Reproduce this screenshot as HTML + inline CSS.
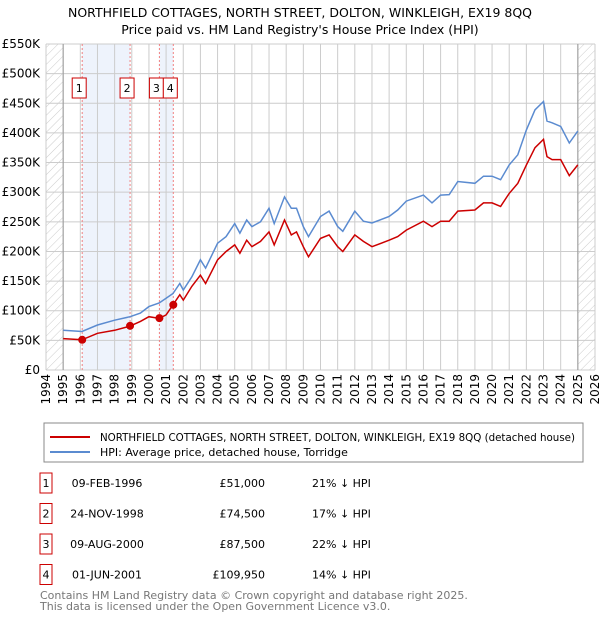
<!DOCTYPE html>
<html><head><meta charset="utf-8"><style>
body{margin:0;background:#fff;font-family:"Liberation Sans","DejaVu Sans",sans-serif;}
svg text{font-family:"DejaVu Sans","Liberation Sans",sans-serif;}
</style></head><body>
<svg id="c" width="600" height="620" xmlns="http://www.w3.org/2000/svg">
<defs><pattern id="hatch" width="6" height="6" patternUnits="userSpaceOnUse" patternTransform="rotate(45)"><line x1="0" y1="0" x2="0" y2="6" stroke="#ccc" stroke-width="1"/></pattern></defs>
<text x="300" y="17" text-anchor="middle" font-size="12.5">NORTHFIELD COTTAGES, NORTH STREET, DOLTON, WINKLEIGH, EX19 8QQ</text>
<text x="300" y="34" text-anchor="middle" font-size="12.5">Price paid vs. HM Land Registry's House Price Index (HPI)</text>
<g id="plot"></g>
<g>
<rect x="44" y="423" width="539" height="39" fill="#fff" stroke="#888"/>
<line x1="50" y1="437" x2="90" y2="437" stroke="#cc0000" stroke-width="2"/>
<text x="100" y="441" font-size="11" textLength="475" lengthAdjust="spacingAndGlyphs">NORTHFIELD COTTAGES, NORTH STREET, DOLTON, WINKLEIGH, EX19 8QQ (detached house)</text>
<line x1="50" y1="452" x2="90" y2="452" stroke="#5b8bd0" stroke-width="2"/>
<text x="100" y="456" font-size="11">HPI: Average price, detached house, Torridge</text>
</g>
<g id="table" font-size="11"></g>
<text x="40" y="599" font-size="11" fill="#777">Contains HM Land Registry data © Crown copyright and database right 2025.</text>
<text x="40" y="610" font-size="11" fill="#777">This data is licensed under the Open Government Licence v3.0.</text>
</svg>
<script>
const years=[1995,1996.1,1997,1998,1998.9,1999.5,2000,2000.6,2001,2001.4,2001.8,2002,2002.5,2003,2003.3,2004,2004.5,2005,2005.3,2005.7,2006,2006.5,2007,2007.3,2007.9,2008.3,2008.6,2009,2009.3,2010,2010.5,2011,2011.3,2012,2012.5,2013,2014,2014.5,2015,2016,2016.5,2017,2017.5,2018,2019,2019.5,2020,2020.5,2021,2021.5,2022,2022.5,2023,2023.2,2023.5,2024,2024.5,2025];
const hpi=[67,65,76,84,90,96,107,113,121,129,146,135,157,186,172,214,225,247,231,253,242,250,273,247,292,273,273,242,225,259,268,242,234,268,251,248,259,270,285,295,282,295,296,318,315,327,327,321,346,363,405,439,453,420,417,411,383,403];
const paid=[53,51,62,67,74,82,90,87,93,110,127,118,141,160,146,186,200,211,197,219,208,217,233,211,253,228,233,208,191,222,228,208,200,228,217,208,219,225,236,251,242,251,251,268,270,282,282,276,298,315,346,375,389,360,355,355,328,346];
const saleYears=[1996.11,1998.9,2000.61,2001.42];
const salePrices=[51,74.5,87.5,109.95];
const saleLabels=["1","2","3","4"];
const saleDates=["09-FEB-1996","24-NOV-1998","09-AUG-2000","01-JUN-2001"];
const salePriceText=["£51,000","£74,500","£87,500","£109,950"];
const saleDiff=["21% ↓ HPI","17% ↓ HPI","22% ↓ HPI","14% ↓ HPI"];
const yTicks=[0,50,100,150,200,250,300,350,400,450,500,550];
const xTicks=[1994,1995,1996,1997,1998,1999,2000,2001,2002,2003,2004,2005,2006,2007,2008,2009,2010,2011,2012,2013,2014,2015,2016,2017,2018,2019,2020,2021,2022,2023,2024,2025,2026];
const X0=46,X1=595,Y0=370,Y1=44;
const sx=y=>X0+(y-1994)/(2026-1994)*(X1-X0);
const sy=v=>Y0-v/550*(Y0-Y1);
const NS="http://www.w3.org/2000/svg";
const plot=document.getElementById('plot');
function mk(t,a,p){const e=document.createElementNS(NS,t);for(const k in a)e.setAttribute(k,a[k]);(p||plot).appendChild(e);return e;}
let r=mk('rect',{x:sx(1994),y:Y1,width:sx(1995)-sx(1994),height:Y0-Y1,fill:'url(#hatch)'});


r=mk('rect',{x:sx(2025),y:Y1,width:sx(2026)-sx(2025),height:Y0-Y1,fill:'url(#hatch)'});


r=mk('rect',{x:sx(saleYears[0]),y:Y1,width:sx(saleYears[1])-sx(saleYears[0]),height:Y0-Y1,fill:'#eef3fc'});


r=mk('rect',{x:sx(saleYears[2]),y:Y1,width:sx(saleYears[3])-sx(saleYears[2]),height:Y0-Y1,fill:'#eef3fc'});


yTicks.forEach(v=>{
 const l=mk('line',{x1:X0,x2:X1,y1:sy(v),y2:sy(v),stroke:'#ccc'});
 
 
 const t=mk('text',{x:X0-6,y:sy(v)+4,'text-anchor':'end','font-size':'12'});
 t.textContent=v===0?'£0':'£'+v+'K';
 
 
});
xTicks.forEach(y=>{
 const l=mk('line',{x1:sx(y),x2:sx(y),y1:Y1,y2:Y0,stroke:'#ccc'});
 
 
 const t=mk('text',{transform:`translate(${sx(y)+4},${Y0+4}) rotate(-90)`,'text-anchor':'end','font-size':'12'});
 t.textContent=y;
 
 
});
let l=mk('line',{x1:sx(1995),x2:sx(1995),y1:Y1,y2:Y0,stroke:'#999'});


l=mk('line',{x1:sx(2025),x2:sx(2025),y1:Y1,y2:Y0,stroke:'#999'});


saleYears.forEach((y,i)=>{
 const d=mk('line',{x1:sx(y),x2:sx(y),y1:Y1,y2:Y0,stroke:'#f08080','stroke-dasharray':'2,2'});
 
 
 const bx=sx(y)-10;
 const g=mk('g',{});
 
 
 mk('rect',{x:bx,y:78,width:14,height:20,fill:'#fff',stroke:'#cc0000'},g);
 const t=mk('text',{x:bx+7,y:92,'text-anchor':'middle','font-size':'11'},g);
 t.textContent=saleLabels[i];
});
const path=(vals,col,name)=>{
 const p=mk('path',{d:years.map((y,i)=>(i?'L':'M')+sx(y).toFixed(1)+','+sy(vals[i]).toFixed(1)).join(''),fill:'none',stroke:col,'stroke-width':'1.5'});
 
 
};
path(hpi,'#5b8bd0','hpi-line');
path(paid,'#cc0000','property-line');
saleYears.forEach((y,i)=>{
 const c=mk('circle',{cx:sx(y),cy:sy(salePrices[i]),r:4,fill:'#cc0000'});
 
 
});
const tb=document.getElementById('table');
saleLabels.forEach((s,i)=>{
 const cy=483+i*30.5;
 const g=mk('g',{},tb);
 
 
 mk('rect',{x:40,y:cy-10,width:12,height:20,fill:'#fff',stroke:'#cc0000'},g);
 let t=mk('text',{x:46,y:cy+4,'text-anchor':'middle'},g);t.textContent=s;
 t=mk('text',{x:107,y:cy+4,'text-anchor':'middle'},g);t.textContent=saleDates[i];
 t=mk('text',{x:265,y:cy+4,'text-anchor':'end'},g);t.textContent=salePriceText[i];
 t=mk('text',{x:312,y:cy+4},g);t.textContent=saleDiff[i];
});
</script>
</body></html>
